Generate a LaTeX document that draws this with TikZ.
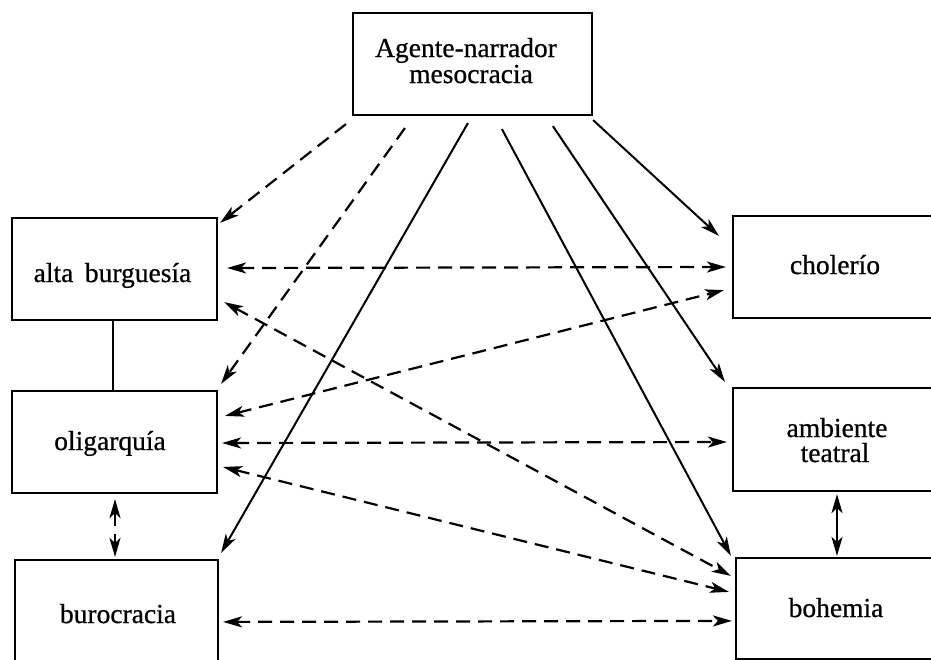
\documentclass[tikz,border=0pt]{standalone}
\usepackage{fontspec}
\setmainfont[FakeBold=0.7]{Liberation Serif}
\usetikzlibrary{arrows.meta,calc}

\begin{document}
\begin{tikzpicture}[x=1pt,y=-1pt,
  box/.style={draw, line width=2.2pt, inner sep=0pt},
  lbl/.style={anchor=base, inner sep=0pt, font=\fontsize{27.5}{26}\selectfont},
  link/.style={line width=2pt},
  dlink/.style={line width=2.2pt, dash pattern=on 14pt off 8pt},
  >={Stealth[length=19pt,width=11pt,inset=5pt]}]
  \useasboundingbox (0,0) rectangle (931,659);
  \clip (0,0) rectangle (931,659);

  % class boxes
  \node[box, minimum width=239pt, minimum height=102pt] (top)  at (472.5,64) {};
  \node[box, minimum width=205pt, minimum height=102pt] (alta) at (114.5,269) {};
  \node[box, minimum width=205pt, minimum height=102pt] (olig) at (114.5,442) {};
  \node[box, minimum width=203pt, minimum height=115pt] (buro) at (116.5,617.5) {};
  \node[box, minimum width=204pt, minimum height=102pt] (chol) at (835,267) {};
  \node[box, minimum width=204pt, minimum height=103pt] (amb)  at (835,439.5) {};
  \node[box, minimum width=204pt, minimum height=101pt] (boh)  at (838,608.5) {};

  % labels
  \node[lbl] (top-a)  at (466,57)    {Agente-narrador};
  \node[lbl] (top-b)  at (471,83)    {mesocracia};
  \node[lbl] (alta-t) at (112.5,282) {alta\, burguesía};
  \node[lbl] (olig-t) at (110,450)   {oligarquía};
  \node[lbl] (buro-t) at (118,623)   {burocracia};
  \node[lbl] (chol-t) at (835,274)   {cholerío};
  \node[lbl] (amb-a)  at (837,437)   {ambiente};
  \node[lbl] (amb-b)  at (835,462)   {teatral};
  \node[lbl] (boh-t)  at (836,617)   {bohemia};

  % from the narrator
  \draw[dlink,->] ($(top.south west)+(-6,8)$)   -- ($(alta.north east)+(2,6)$);
  \draw[dlink,->] ($(top.south west)+(53,12)$)  -- ($(olig.north east)+(3,-6)$);
  \draw[link,->]  ($(top.south west)+(116,7)$)  -- ($(buro.north east)+(2,-6)$);
  \draw[link,->]  ($(top.south west)+(150,13)$) -- ($(boh.north west)+(-4,-1)$);
  \draw[link,->]  ($(top.south west)+(201,10)$) -- ($(amb.north west)+(-7,-5)$);
  \draw[link,->]  ($(top.south east)+(0,4)$)    -- ($(chol.north west)+(-13,21)$);

  % relations between the groups
  \draw[dlink,<->] ($(alta.east)+(9,-1)$)         -- ($(chol.west)+(-6,0)$);
  \draw[dlink,<->] ($(alta.south east)+(6,-19)$)  -- ($(boh.north west)+(-4,19)$);
  \draw[dlink,<->] ($(olig.north east)+(7,26)$)   -- ($(chol.south west)+(-8,-29)$);
  \draw[dlink,<->] ($(olig.east)+(4,1)$)          -- ($(amb.west)+(-5,2.5)$);
  \draw[dlink,<->] ($(olig.east)+(5,25)$)         -- ($(boh.north west)+(-6,35)$);
  \draw[dlink,<->] ($(buro.north east)+(4,63)$)   -- ($(boh.north west)+(-3,64)$);

  % vertical ties
  \draw[link]      ($(alta.south)+(-2,0)$)  -- ($(olig.north)+(-2,0)$);
  \draw[dlink,<->] ($(olig.south)+(0.5,5)$) -- ($(buro.north)+(-1.5,-2)$);
  \draw[link,<->]  ($(amb.south)+(2,2)$)    -- ($(boh.north)+(-1,-1)$);
\end{tikzpicture}
\end{document}
